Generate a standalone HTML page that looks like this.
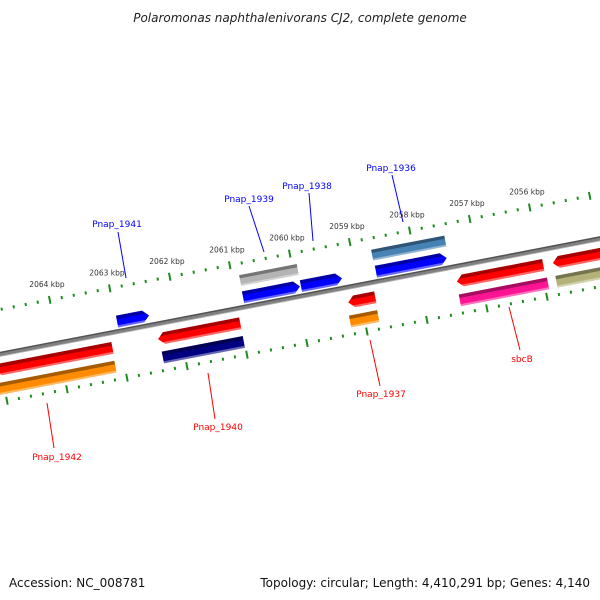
<!DOCTYPE html>
<html><head><meta charset="utf-8"><style>
html,body{margin:0;padding:0;background:#fff}
svg{display:block;font-family:"DejaVu Sans","Liberation Sans",sans-serif}
</style></head><body>
<svg id="map" width="600" height="600" viewBox="0 0 600 600" xmlns="http://www.w3.org/2000/svg">
<defs id="defs"></defs>
<text x="300" y="22" text-anchor="middle" font-size="12" font-style="italic" fill="#222">Polaromonas naphthalenivorans CJ2, complete genome</text>
<g id="rot" transform="translate(300,296.5) rotate(-10.9)"></g>
<g id="labels"></g>
<text x="9" y="587" font-size="12" fill="#111">Accession: NC_008781</text>
<text x="590" y="587" text-anchor="end" font-size="12" fill="#111">Topology: circular; Length: 4,410,291 bp; Genes: 4,140</text>
</svg>
<script>
// data
const tickStartKbp = 2066, tickEndKbp = 2054;
const tickLabelMin = 2056, tickLabelMax = 2064;
const geneNames = ["Pnap_1941","Pnap_1939","Pnap_1938","Pnap_1936","Pnap_1939c","Pnap_1936c","Pnap_1942","Pnap_1940","Pnap_1937","sbcB","next","Pnap_1942c","Pnap_1940c","Pnap_1937c","sbcBc","nextc"];
const geneStart = [2062.985,2060.885,2059.92,2058.67,2060.88,2058.68,2065.1,2062.38,2059.21,2057.40,2055.8,2065.1,2062.36,2059.24,2057.41,2055.8];
const geneEnd   = [2062.452,2059.936,2059.236,2057.49,2059.92,2057.46,2063.14,2061.01,2058.76,2055.96,2054.6,2063.15,2061.01,2058.77,2055.94,2054.6];
const geneLane  = [0,0,0,0,1,1,2,2,2,2,2,3,3,3,3,3];
const geneArrow = ["R","R","R","R","","","L","L","L","L","L","","","","",""];
const geneColor = ["#0000ff","#0000ff","#0000ff","#0000ff","#b4b4b4","#4682b4","#ff0000","#ff0000","#ff0000","#ff0000","#ff0000","#ff8c00","#000080","#ff8c00","#ff1493","#b4b27a"];
const labelText = ["Pnap_1941","Pnap_1939","Pnap_1938","Pnap_1936","Pnap_1942","Pnap_1940","Pnap_1937","sbcB"];
const labelColor= ["#0000ff","#0000ff","#0000ff","#0000ff","#ff0000","#ff0000","#ff0000","#ff0000"];

const NS="http://www.w3.org/2000/svg";
const laneV=[-10,-27,15,34], laneH=[12,11,12,12];
const TH=-10.9*Math.PI/180, CS=Math.cos(TH), SN=Math.sin(TH);
function u(k){return -2+(2060-k)*61.1;}
function toScreen(uu,v){return [300+uu*CS-v*SN, 296.5+uu*SN+v*CS];}
function mk(tag,attrs,parent){const e=document.createElementNS(NS,tag);for(const a in attrs)e.setAttribute(a,attrs[a]);parent.appendChild(e);return e;}
const rot=document.getElementById('rot'), defs=document.getElementById('defs'), labs=document.getElementById('labels');
function shade(hex,f){const n=parseInt(hex.slice(1),16);let r=n>>16,g=(n>>8)&255,b=n&255;
 const m=c=>Math.round(f<0?c*(1+f):c+(255-c)*f);return `rgb(${m(r)},${m(g)},${m(b)})`;}
function grad(id,col){const g=mk('linearGradient',{id:id,x1:0,y1:0,x2:0,y2:1},defs);
 [[0,shade(col,-0.35)],[0.28,shade(col,-0.35)],[0.32,col],[0.8,col],[0.85,shade(col,0.4)],[1,shade(col,0.4)]].forEach(s=>mk('stop',{offset:s[0],'stop-color':s[1]},g));}
// backbone
grad('gbb','#808080');
const bb=mk('rect',{x:-400,y:-2.5,width:800,height:5,fill:'url(#gbb)'},rot);


// ticks
for(let i=0;i<=Math.round((tickStartKbp-tickEndKbp)*5);i++){
 const k=tickStartKbp-i*0.2, uu=u(k), major=Math.abs(k-Math.round(k))<1e-6;
 [-44,47].forEach(v=>{
  const len=major?8:3;
  const t=mk('line',{x1:uu,x2:uu,y1:v-len/2,y2:v+len/2,stroke:'#1e8c1e','stroke-width':2},rot);
  
  
 });
 const kr=Math.round(k);
 if(major && kr>=tickLabelMin && kr<=tickLabelMax){
  const p=toScreen(uu,-48);
  const tx=mk('text',{x:p[0]-2,y:p[1]-9,'text-anchor':'middle','font-size':7.5,fill:'#333'},labs);
  tx.textContent=kr+' kbp';
  
  
 }
}
// genes
for(let i=0;i<geneNames.length;i++){
 const a=u(geneStart[i]), b=u(geneEnd[i]), v=laneV[geneLane[i]], h=laneH[geneLane[i]];
 const y0=v-h/2, y1=v+h/2, hd=6;
 grad('g'+i,geneColor[i]);
 let d;
 if(geneArrow[i]==='R') d=`M${a},${y0}L${b-hd},${y0}L${b},${v}L${b-hd},${y1}L${a},${y1}Z`;
 else if(geneArrow[i]==='L') d=`M${b},${y0}L${a+hd},${y0}L${a},${v}L${a+hd},${y1}L${b},${y1}Z`;
 else d=`M${a},${y0}L${b},${y0}L${b},${y1}L${a},${y1}Z`;
 const p=mk('path',{d:d,fill:`url(#g${i})`},rot);
 
 
}
// labels with leader lines (screen coords)
const labelPos=[[117,227],[249,202],[307,189],[391,171],[57,460],[218,430],[381,397],[522,362]];
const leaders=[[118,232,126,278],[249,206,264,252],[309,193,313,241],[392,175,403,222],[47,403,54,448],[208,373,215,419],[370,340,380,386],[509,307,520,350]];
for(let i=0;i<labelText.length;i++){
 const L=leaders[i];
 const ln=mk('line',{x1:L[0],y1:L[1],x2:L[2],y2:L[3],stroke:labelColor[i],'stroke-width':1},labs);
 
 
 const t=mk('text',{x:labelPos[i][0],y:labelPos[i][1],'text-anchor':'middle','font-size':9,fill:labelColor[i]},labs);
 t.textContent=labelText[i];
 
 
}
</script>
</body></html>
